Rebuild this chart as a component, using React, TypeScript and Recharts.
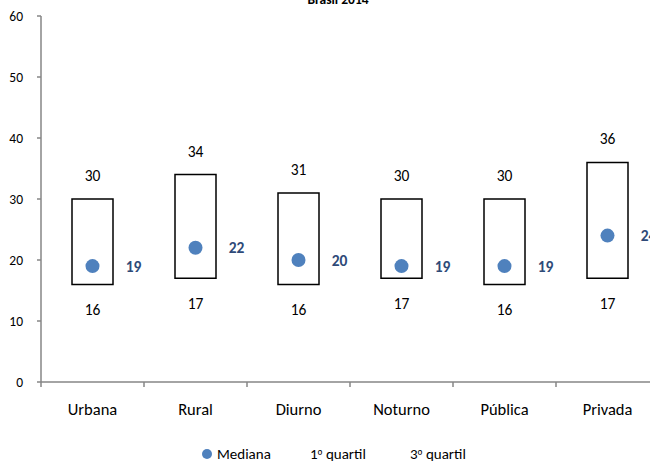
import React from "react";
import { ComposedChart, Bar, Line, XAxis, YAxis, Legend } from "recharts";

const categories = ["Urbana", "Rural", "Diurno", "Noturno", "Pública", "Privada"];
const q1Values = [16, 17, 16, 17, 16, 17];
const q3Values = [30, 34, 31, 30, 30, 36];
const medianValues = [19, 22, 20, 19, 19, 24];
const yTicks = [0, 10, 20, 30, 40, 50, 60];
const legendLabels = ["Mediana", "1º quartil", "3º quartil"];

const data = categories.map((c, i) => ({
  name: c,
  q1: q1Values[i],
  q3: q3Values[i],
  med: medianValues[i],
  range: [q1Values[i], q3Values[i]],
}));

const FONT = "Carlito, Lato, 'Noto Sans', sans-serif";
const CHART_W = 670;
const MARGIN = { top: 16, right: 11, left: 0, bottom: 0 };
const Y_W = 41;
const HALF_BAND = (CHART_W - Y_W - MARGIN.right) / categories.length / 2;
const AXIS_COLOR = "#868686";

const XTick = (props: any) => {
  const { x, y, payload, index } = props;
  const last = index === categories.length - 1;
  return (
    <g>
      <line x1={x - HALF_BAND} x2={x - HALF_BAND} y1={y} y2={y + 5} stroke={AXIS_COLOR} strokeWidth={1.5} />
      {last && (
        <line x1={x + HALF_BAND} x2={x + HALF_BAND} y1={y} y2={y + 5} stroke={AXIS_COLOR} strokeWidth={1.5} />
      )}
      <text x={x} y={y + 33} textAnchor="middle" fontSize={16.5} fontFamily={FONT} fill="#000">
        {payload.value}
      </text>
    </g>
  );
};

const BoxLabel = (props: any) => {
  const { x, y, width, height, index } = props;
  const cx = x + width / 2;
  return (
    <g>
      <text x={cx} y={y - 18} textAnchor="middle" fontSize={15.5} fontFamily={FONT} fill="#000">
        {q3Values[index]}
      </text>
      <text x={cx} y={y + height + 31} textAnchor="middle" fontSize={15.5} fontFamily={FONT} fill="#000">
        {q1Values[index]}
      </text>
    </g>
  );
};

const MedLabel = (props: any) => {
  const { x, y, value } = props;
  return (
    <text x={x + 41} y={y + 5.5} textAnchor="middle" fontSize={15.5} fontWeight="bold" fontFamily={FONT} fill="#2E4A78">
      {value}
    </text>
  );
};

const LegendText = ({ x, label }: { x: number; label: string }) => {
  const idx = label.indexOf("º");
  if (idx < 0) {
    return (
      <text x={x} y={28} fontSize={15} fontFamily={FONT} fill="#000">{label}</text>
    );
  }
  return (
    <text x={x} y={28} fontSize={15} fontFamily={FONT} fill="#000">
      {label.slice(0, idx)}
      <tspan fontFamily="'Noto Sans', sans-serif" fontSize={13}>º</tspan>
      {label.slice(idx + 1)}
    </text>
  );
};

const LegendContent = () => (
  <svg width={650} height={30} style={{ display: "block" }}>
    <circle cx={207} cy={23} r={5} fill="#4F81BD" />
    <LegendText x={217} label={legendLabels[0]} />
    <LegendText x={310} label={legendLabels[1]} />
    <LegendText x={410} label={legendLabels[2]} />
  </svg>
);

export default function App() {
  return (
    <div style={{ position: "absolute", left: 0, top: 0, width: 650, height: 461, overflow: "hidden", background: "#fff" }}>
      <div
        style={{
          position: "absolute",
          left: 0,
          width: 676,
          top: -9,
          textAlign: "center",
          fontFamily: FONT,
          fontWeight: "bold",
          fontSize: 13.5,
          zIndex: 2,
        }}
      >
        Brasil 2014
      </div>
      <ComposedChart width={CHART_W} height={461} data={data} margin={MARGIN}>
        <XAxis
          dataKey="name"
          axisLine={{ stroke: AXIS_COLOR, strokeWidth: 1.5 }}
          tickLine={false}
          tickSize={0}
          tickMargin={0}
          height={49}
          tick={<XTick />}
          interval={0}
        />
        <YAxis
          domain={[0, 60]}
          ticks={yTicks}
          width={Y_W}
          axisLine={{ stroke: AXIS_COLOR, strokeWidth: 1.5 }}
          tickLine={{ stroke: AXIS_COLOR, strokeWidth: 1.5 }}
          tickSize={4}
          tickMargin={14}
          tick={{ fontSize: 13.5, fontFamily: FONT, fill: "#000" }}
          allowDataOverflow
        />
        <Legend verticalAlign="bottom" height={30} wrapperStyle={{ left: 0, width: 650 }} content={<LegendContent />} />
        <Bar
          dataKey="range"
          barSize={41}
          fill="#fff"
          stroke="#000"
          strokeWidth={1.5}
          isAnimationActive={false}
          label={<BoxLabel />}
        />
        <Line
          dataKey="med"
          stroke="none"
          dot={{ r: 7, fill: "#4F81BD", stroke: "none" }}
          activeDot={false}
          isAnimationActive={false}
          label={<MedLabel />}
        />
      </ComposedChart>
    </div>
  );
}
